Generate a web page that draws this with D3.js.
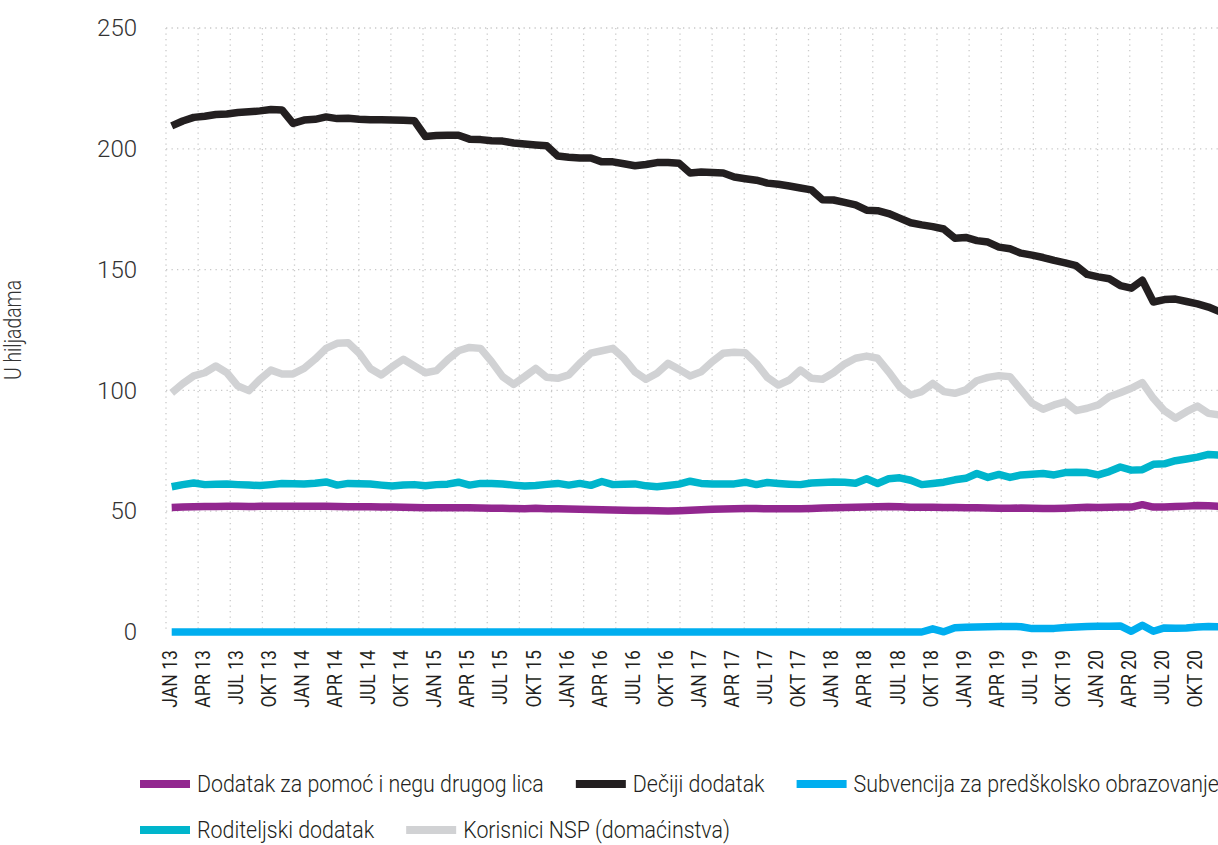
<!DOCTYPE html>
<html><head><meta charset="utf-8">
<script src="https://cdn.jsdelivr.net/npm/d3@7"></script>
<style>
html,body{margin:0;padding:0;background:#fff;}
svg{display:block;}
</style></head><body>
<svg id="chart" width="1218" height="845"></svg>
<script>
// ---------- DATA ----------
const monthNames = ["JAN","FEB","MAR","APR","MAJ","JUN","JUL","AVG","SEP","OKT","NOV","DEC"];
const years = ["13","14","15","16","17","18","19","20"];
const categories = years.flatMap(yy => monthNames.map(m => m + " " + yy));

const tickLabels = [
  "JAN 13","APR 13","JUL 13","OKT 13","JAN 14","APR 14","JUL 14","OKT 14",
  "JAN 15","APR 15","JUL 15","OKT 15","JAN 16","APR 16","JUL 16","OKT 16",
  "JAN 17","APR 17","JUL 17","OKT 17","JAN 18","APR 18","JUL 18","OKT 18",
  "JAN 19","APR 19","JUL 19","OKT 19","JAN 20","APR 20","JUL 20","OKT 20"
];
const yTicks = [0, 50, 100, 150, 200, 250];
const yTitle = "U hiljadama";

const seriesNames = [
  "Dodatak za pomoć i negu drugog lica",
  "Dečiji dodatak",
  "Subvencija za predškolsko obrazovanje",
  "Roditeljski dodatak",
  "Korisnici NSP (domaćinstva)"
];
const seriesColors = ["#92278f", "#231f20", "#00aeef", "#00b5cc", "#d1d2d4"];

const dodatak = [
  51.5,51.7,51.8,51.9,51.9,52.0,52.0,51.9,52.0,52.0,52.1,52.1,
  52.1,52.1,52.0,51.9,51.8,51.8,51.8,51.7,51.7,51.6,51.5,51.4,
  51.4,51.4,51.4,51.4,51.3,51.2,51.2,51.1,51.0,51.2,51.0,51.0,
  50.9,50.8,50.7,50.6,50.5,50.4,50.3,50.3,50.2,50.1,50.2,50.4,
  50.6,50.8,50.9,51.0,51.1,51.1,51.0,51.0,51.0,51.0,51.1,51.3,
  51.4,51.5,51.6,51.7,51.8,51.9,51.8,51.6,51.6,51.6,51.5,51.5,
  51.4,51.4,51.3,51.2,51.2,51.3,51.2,51.1,51.1,51.2,51.4,51.6,
  51.5,51.6,51.7,51.7,52.7,51.7,51.7,51.9,52.1,52.4,52.3,52.0
];
const deciji = [
  209.5,211.5,213.0,213.5,214.2,214.4,215.0,215.3,215.7,216.3,216.1,210.5,
  211.9,212.2,213.2,212.5,212.6,212.2,212.0,212.0,211.9,211.8,211.6,205.1,
  205.5,205.6,205.6,204.0,203.8,203.3,203.2,202.4,202.0,201.6,201.3,197.0,
  196.5,196.2,196.2,194.6,194.6,193.8,193.0,193.5,194.3,194.3,194.0,190.0,
  190.4,190.2,190.0,188.3,187.6,187.0,185.8,185.3,184.6,183.8,183.0,178.9,
  178.8,177.8,176.8,174.6,174.4,173.2,171.3,169.4,168.5,167.8,166.8,163.0,
  163.3,162.0,161.4,159.3,158.6,156.8,156.0,155.0,153.8,152.8,151.6,148.0,
  147.0,146.2,143.4,142.3,145.6,136.6,137.6,137.8,136.8,135.8,134.5,132.6
];
const subvencija = [
  0,0,0,0,0,0,0,0,0,0,0,0,
  0,0,0,0,0,0,0,0,0,0,0,0,
  0,0,0,0,0,0,0,0,0,0,0,0,
  0,0,0,0,0,0,0,0,0,0,0,0,
  0,0,0,0,0,0,0,0,0,0,0,0,
  0,0,0,0,0,0,0,0,0,1.3,0.1,1.8,
  2.0,2.1,2.2,2.3,2.3,2.2,1.4,1.4,1.5,1.9,2.1,2.3,
  2.4,2.4,2.5,0.3,2.8,0.3,1.7,1.6,1.7,2.1,2.3,2.2
];
const roditeljski = [
  60.1,61.0,61.7,61.0,61.2,61.3,61.0,60.8,60.6,61.0,61.5,61.4,
  61.3,61.6,62.1,60.8,61.5,61.4,61.3,60.8,60.4,60.8,61.0,60.5,
  61.0,61.2,62.0,60.8,61.5,61.5,61.3,60.8,60.4,60.6,61.1,61.5,
  60.8,61.5,60.7,62.3,61.0,61.2,61.3,60.5,60.1,60.6,61.2,62.4,
  61.5,61.3,61.3,61.3,62.0,61.0,61.9,61.5,61.2,61.0,61.7,61.9,
  62.1,62.0,61.6,63.4,61.5,63.4,63.8,62.8,61.0,61.5,62.0,63.0,
  63.6,65.6,64.0,65.2,64.0,65.0,65.3,65.6,65.0,66.0,66.1,66.0,
  65.0,66.4,68.3,67.0,67.2,69.4,69.6,70.9,71.6,72.4,73.5,73.2
];
const korisnici = [
  99.0,102.8,106.0,107.3,110.1,107.3,101.8,99.9,104.6,108.4,106.8,106.8,
  109.1,112.9,117.4,119.5,119.7,115.4,109.1,106.4,109.8,112.9,110.1,107.3,
  108.2,112.6,116.4,117.8,117.4,111.9,105.7,102.5,105.7,109.1,105.4,105.0,
  106.4,111.2,115.4,116.4,117.4,113.3,107.7,104.6,107.1,111.2,108.7,106.0,
  107.7,111.9,115.4,115.8,115.6,111.2,105.4,102.2,104.3,108.4,105.0,104.6,
  107.3,110.9,113.3,114.2,113.3,107.7,101.5,98.1,99.5,102.9,99.5,98.8,
  100.2,104.0,105.4,106.1,105.7,100.2,94.7,92.2,94.0,95.3,91.6,92.6,
  94.0,97.4,99.0,100.9,103.2,96.7,91.6,88.5,91.2,93.5,90.5,89.8
];
const seriesValues = [dodatak, deciji, subvencija, roditeljski, korisnici];

// ---------- CHART ----------
const svg = d3.select("#chart");
const W = 1218, H = 845;
const plotLeft = 166, plotTop = 28, plotBottom = 632;
const step = 11.03;
const firstX = 171.7;
const condFont = "Roboto, sans-serif";
const cond = 0.84;    // axis text compression (condensed look)
const legCond = 0.91; // legend text compression

const x = d3.scalePoint().domain(categories).range([firstX, firstX + step * (categories.length - 1)]);
const y = d3.scaleLinear().domain([0, 250]).range([plotBottom, plotTop]);
const gridX = d3.scaleLinear().domain([0, 32]).range([plotLeft, 1194]);

const gridColor = "#c9c9c9";
const gridG = svg.append("g");
gridG.selectAll("line.h").data(yTicks.filter(d => d > 0)).join("line")
  .attr("x1", plotLeft).attr("x2", W)
  .attr("y1", d => y(d)).attr("y2", d => y(d))
  .attr("stroke", gridColor).attr("stroke-width", 1.3)
  .attr("stroke-dasharray", "1.3,4.2");
gridG.selectAll("line.v").data(d3.range(0, 33)).join("line")
  .attr("x1", d => gridX(d)).attr("x2", d => gridX(d))
  .attr("y1", plotTop).attr("y2", plotBottom)
  .attr("stroke", gridColor).attr("stroke-width", 1.3)
  .attr("stroke-dasharray", "1.3,4.2");

// y axis
const yAxis = svg.append("g").attr("transform", `translate(${plotLeft},0)`)
  .call(d3.axisLeft(y).tickValues(yTicks).tickSize(0).tickPadding(29));
yAxis.select(".domain").remove();
yAxis.selectAll("text")
  .attr("font-family", "Roboto, sans-serif").attr("font-weight", 300)
  .attr("font-size", 24).attr("fill", "#333333");

// y title
svg.append("text")
  .attr("transform", `translate(21,330) rotate(-90) scale(${cond},1)`)
  .attr("text-anchor", "middle")
  .attr("font-family", condFont).attr("font-weight", 300)
  .attr("font-size", 23).attr("fill", "#333333")
  .text(yTitle);

// x axis
const xAxis = svg.append("g").attr("transform", `translate(0,${plotBottom})`)
  .call(d3.axisBottom(x).tickValues(tickLabels).tickSize(0));
xAxis.select(".domain").remove();
xAxis.selectAll("text")
  .attr("transform", `rotate(-90) scale(${cond},1)`)
  .attr("text-anchor", "end")
  .attr("x", -18 / cond).attr("y", -3).attr("dy", "0.35em")
  .attr("font-family", condFont).attr("font-weight", 400)
  .attr("font-size", 21).attr("fill", "#231f20");

// lines
const line = d3.line().x((d, i) => x(categories[i])).y(d => y(d));
svg.append("g").selectAll("path").data(d3.range(seriesValues.length)).join("path")
  .attr("d", k => line(seriesValues[k]))
  .attr("fill", "none")
  .attr("stroke", k => seriesColors[k])
  .attr("stroke-width", 7.5)
  .attr("stroke-linejoin", "round");

// legend
const legendRows = [[0, 1, 2], [3, 4]];
const rowY = [784, 830];
const legend = svg.append("g");
legendRows.forEach((row, r) => {
  let cx = 140;
  row.forEach(k => {
    legend.append("line")
      .attr("x1", cx).attr("x2", cx + 50)
      .attr("y1", rowY[r]).attr("y2", rowY[r])
      .attr("stroke", seriesColors[k]).attr("stroke-width", 8);
    const g = legend.append("g").attr("transform", `translate(${cx + 57},${rowY[r]}) scale(${legCond},1)`);
    const t = g.append("text")
      .attr("dy", "0.35em")
      .attr("font-family", condFont).attr("font-weight", 300)
      .attr("font-size", 23.5).attr("fill", "#231f20")
      .text(seriesNames[k]);
    cx = cx + 57 + t.node().getComputedTextLength() * legCond + 32;
  });
});
</script>
</body></html>
